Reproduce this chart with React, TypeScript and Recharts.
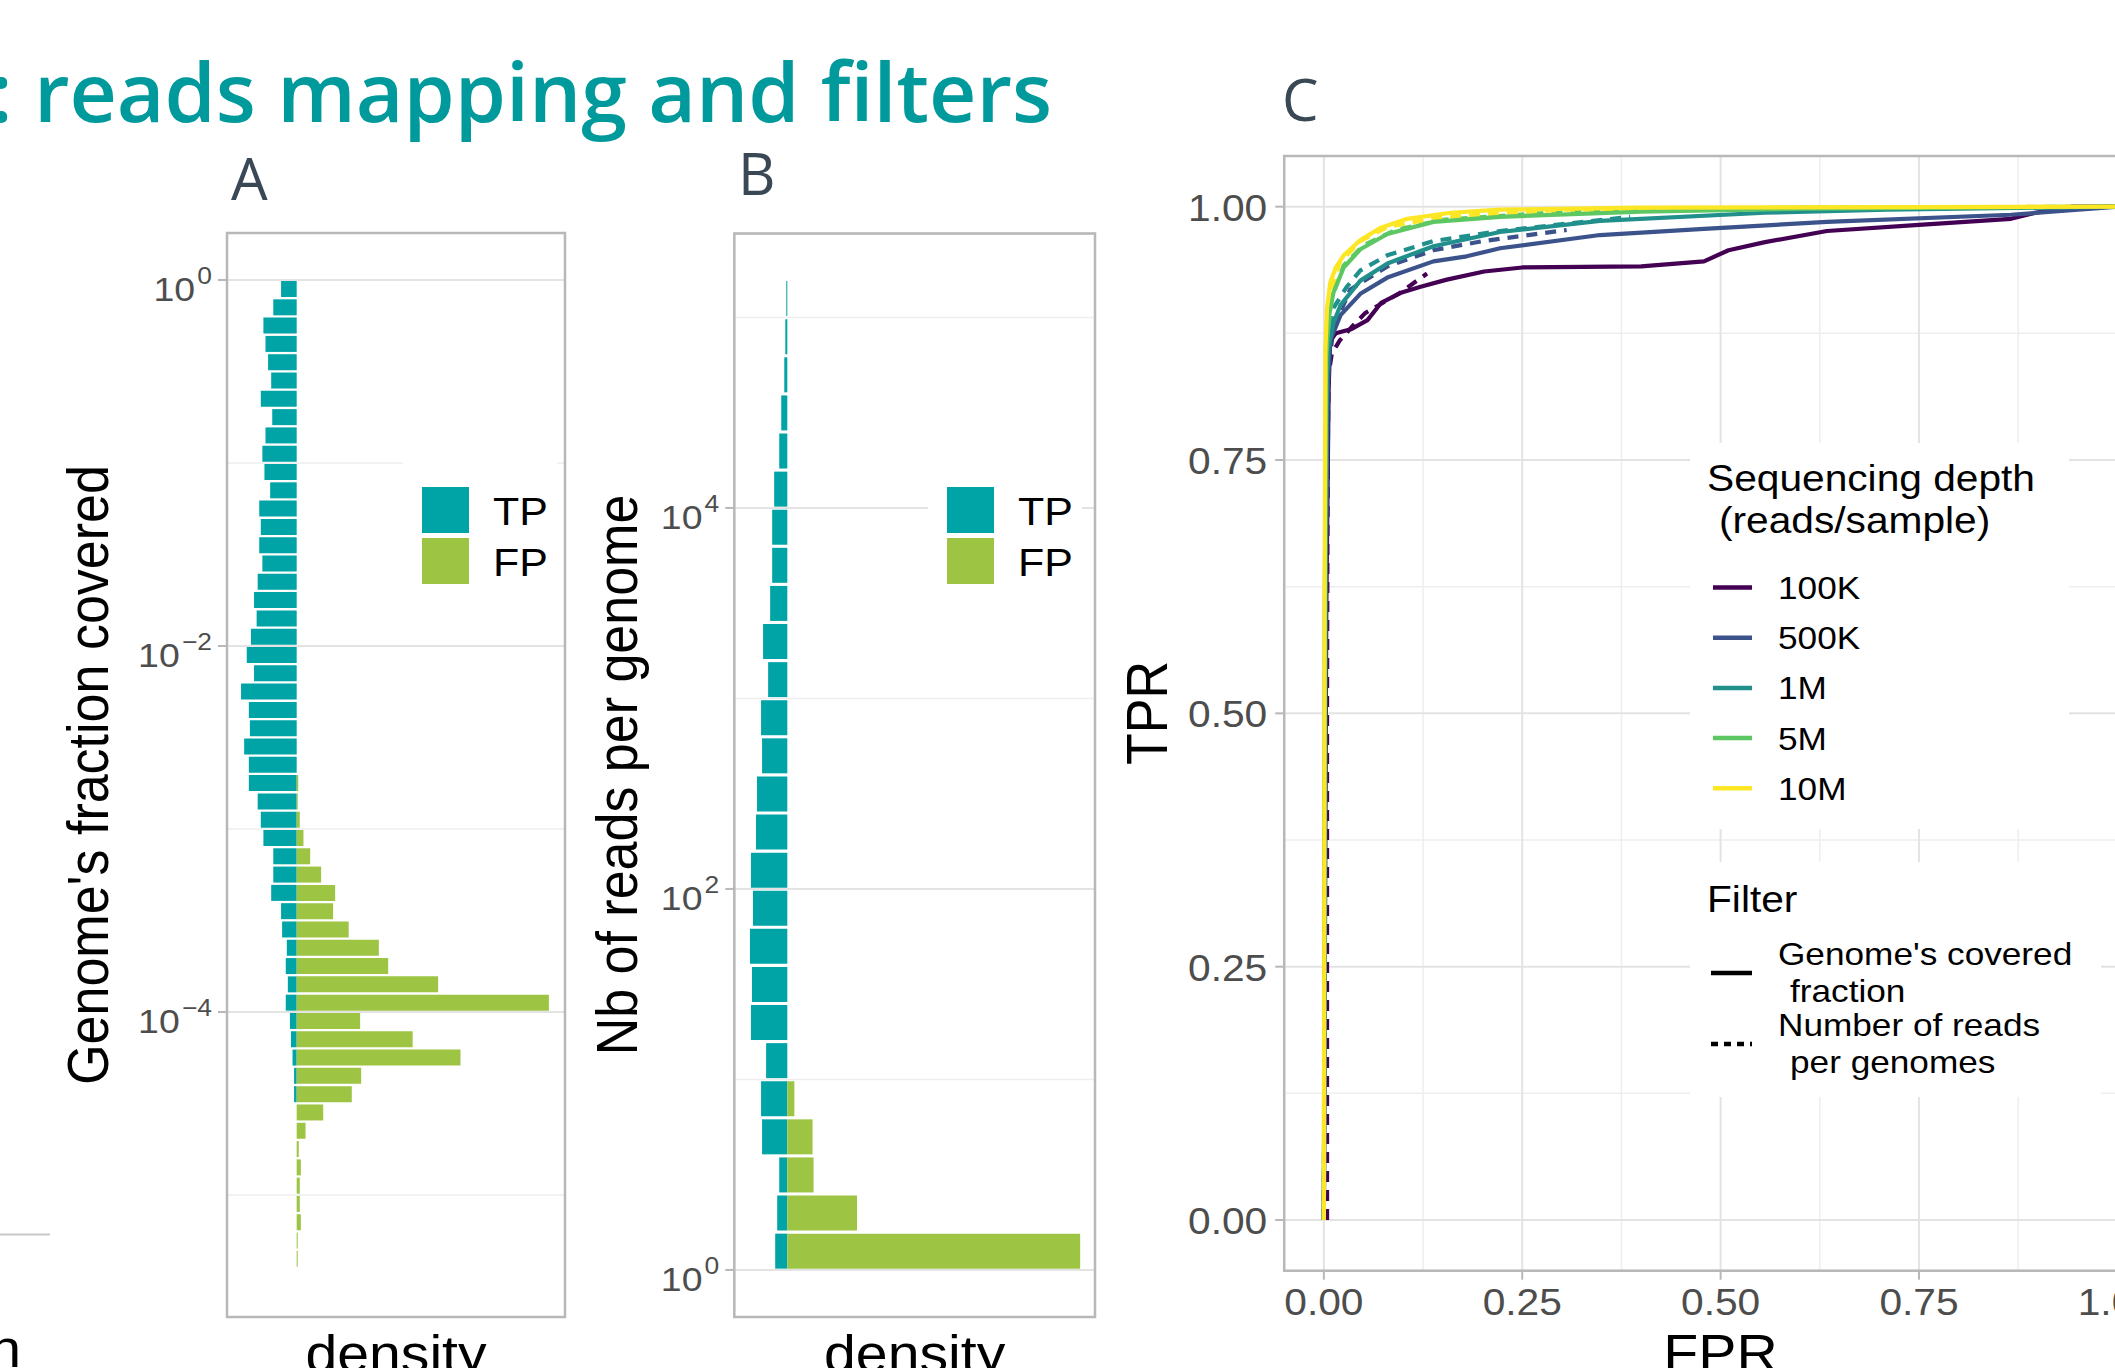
import { BarChart, Bar, LineChart, Line, XAxis, YAxis, CartesianGrid, ReferenceArea, Legend, Label } from 'recharts';

const TP_COLOR = '#00A3A6';
const FP_COLOR = '#9DC443';
const GRID = '#E3E3E3';
const GRID_MINOR = '#EEEEEE';
const BORDER = '#B8B8B8';
const TICK_TEXT = '#4D4D4D';
const SX = 1.1; // the source figure was stretched horizontally

const groupsAB = ['TP', 'FP'];

// A: log10(genome fraction covered), bin centres (0.1 decade)
const binsA = [
  -0.05, -0.15, -0.25, -0.35, -0.45, -0.55, -0.65, -0.75, -0.85, -0.95,
  -1.05, -1.15, -1.25, -1.35, -1.45, -1.55, -1.65, -1.75, -1.85, -1.95,
  -2.05, -2.15, -2.25, -2.35, -2.45, -2.55, -2.65, -2.75, -2.85, -2.95,
  -3.05, -3.15, -3.25, -3.35, -3.45, -3.55, -3.65, -3.75, -3.85, -3.95,
  -4.05, -4.15, -4.25, -4.35, -4.45, -4.55, -4.65, -4.75, -4.85, -4.95,
  -5.05, -5.15, -5.25, -5.35,
];
const tpA = [
  0.30, 0.45, 0.64, 0.60, 0.55, 0.49, 0.69, 0.47, 0.60, 0.66,
  0.62, 0.51, 0.72, 0.69, 0.72, 0.66, 0.75, 0.82, 0.77, 0.88,
  0.96, 0.82, 1.07, 0.92, 0.90, 1.01, 0.92, 0.92, 0.75, 0.69,
  0.64, 0.45, 0.45, 0.49, 0.30, 0.28, 0.19, 0.21, 0.17, 0.21,
  0.13, 0.11, 0.08, 0.05, 0.05, 0, 0, 0, 0, 0,
  0, 0, 0, 0,
];
const fpA = [
  0, 0, 0, 0, 0, 0, 0, 0, 0, 0,
  0, 0, 0, 0, 0, 0, 0, 0, 0, 0,
  0, 0, 0, 0, 0, 0, 0, 0.03, 0.02, 0.06,
  0.13, 0.26, 0.47, 0.74, 0.70, 1.00, 1.58, 1.76, 2.72, 4.85,
  1.22, 2.23, 3.15, 1.24, 1.06, 0.51, 0.17, 0.04, 0.08, 0.06,
  0.06, 0.08, 0.02, 0.02,
];

// B: log10(reads per genome), bin centres (0.2 decade)
const binsB = [
  0.1, 0.3, 0.5, 0.7, 0.9, 1.1, 1.3, 1.5, 1.7, 1.9,
  2.1, 2.3, 2.5, 2.7, 2.9, 3.1, 3.3, 3.5, 3.7, 3.9,
  4.1, 4.3, 4.5, 4.7, 4.9, 5.1,
];
const tpB = [
  0.12, 0.10, 0.08, 0.25, 0.26, 0.21, 0.36, 0.35, 0.37, 0.34,
  0.36, 0.31, 0.30, 0.25, 0.26, 0.19, 0.24, 0.17, 0.15, 0.15,
  0.13, 0.08, 0.06, 0.03, 0.02, 0.01,
];
const fpB = [
  2.90, 0.69, 0.26, 0.25, 0.07, 0, 0, 0, 0, 0,
  0, 0, 0, 0, 0, 0, 0, 0, 0, 0,
  0, 0, 0, 0, 0, 0,
];

// C: ROC curves [FPR, TPR]
const depths = ['100K', '500K', '1M', '5M', '10M'];
const depthColors = ['#440154', '#3B528B', '#21908C', '#5DC863', '#FDE725'];

const cov100K = [[0, 0], [0.003, 0.6], [0.006, 0.82], [0.008, 0.868], [0.015, 0.875], [0.034, 0.879], [0.055, 0.888], [0.072, 0.905], [0.097, 0.915], [0.122, 0.921], [0.155, 0.928], [0.202, 0.936], [0.25, 0.94], [0.4, 0.941], [0.479, 0.946], [0.51, 0.957], [0.556, 0.965], [0.634, 0.976], [0.75, 0.982], [0.866, 0.988], [0.897, 0.994], [0.944, 1], [1, 1]];
const cov500K = [[0, 0], [0.002, 0.6], [0.005, 0.82], [0.008, 0.868], [0.021, 0.893], [0.046, 0.914], [0.08, 0.93], [0.138, 0.946], [0.18, 0.951], [0.222, 0.959], [0.348, 0.972], [0.479, 0.978], [0.634, 0.985], [0.866, 0.992], [1, 1]];
const cov1M = [[0, 0], [0.002, 0.6], [0.004, 0.83], [0.006, 0.862], [0.012, 0.885], [0.021, 0.903], [0.046, 0.927], [0.08, 0.944], [0.138, 0.961], [0.222, 0.975], [0.348, 0.986], [0.556, 0.994], [0.71, 0.997], [1, 1]];
const cov5M = [[0, 0], [0.001, 0.6], [0.003, 0.85], [0.006, 0.89], [0.012, 0.915], [0.025, 0.94], [0.046, 0.958], [0.08, 0.973], [0.138, 0.985], [0.222, 0.99], [0.4, 0.995], [0.6, 0.998], [1, 1]];
const cov10M = [[0, 0], [0.001, 0.6], [0.002, 0.86], [0.004, 0.9], [0.008, 0.925], [0.015, 0.94], [0.025, 0.952], [0.046, 0.967], [0.071, 0.979], [0.105, 0.988], [0.16, 0.994], [0.222, 0.997], [0.4, 0.999], [1, 1]];

const reads100K = [[0.004, 0], [0.004, 0.5], [0.005, 0.83], [0.01, 0.855], [0.02, 0.868], [0.036, 0.882], [0.052, 0.895], [0.096, 0.915], [0.13, 0.934]];
const reads500K = [[0, 0], [0.003, 0.6], [0.006, 0.84], [0.012, 0.88], [0.033, 0.918], [0.08, 0.941], [0.138, 0.957], [0.2, 0.966], [0.306, 0.977]];
const reads1M = [[0, 0], [0.002, 0.6], [0.005, 0.85], [0.012, 0.9], [0.029, 0.921], [0.046, 0.937], [0.08, 0.952], [0.138, 0.966], [0.222, 0.976], [0.386, 0.99]];
const reads5M = [[0, 0], [0.002, 0.6], [0.004, 0.87], [0.01, 0.91], [0.025, 0.942], [0.05, 0.962], [0.09, 0.977], [0.15, 0.987], [0.3, 0.995], [0.6, 0.999], [1, 1]];
const reads10M = [[0, 0], [0.002, 0.6], [0.004, 0.88], [0.008, 0.915], [0.02, 0.945], [0.046, 0.966], [0.08, 0.98], [0.15, 0.99], [0.3, 0.997], [0.6, 0.999], [1, 1]];

const covCurves = [cov100K, cov500K, cov1M, cov5M, cov10M];
const readsCurves = [reads100K, reads500K, reads1M, reads5M, reads10M];
const filterLabels = [["Genome's covered", 'fraction'], ['Number of reads', 'per genomes']];

const rateTicks = [0, 0.25, 0.5, 0.75, 1];
const rateMinor = [0.125, 0.375, 0.625, 0.875];

const dataA = binsA.map((y, i) => ({ y, tp: -tpA[i], fp: fpA[i] }));
const dataB = binsB.map((y, i) => ({ y, tp: -tpB[i], fp: fpB[i] }));
const toPts = (arr: number[][]) => arr.map(([fpr, tpr]) => ({ fpr, tpr }));

function PowTick(props: any) {
  const { x, y, payload } = props;
  const e = payload.value;
  const exp = e < 0 ? `\u2212${-e}` : `${e}`;
  return (
    <text transform={`translate(${x},${y}) scale(${SX},1)`} textAnchor="end" fill={TICK_TEXT} fontSize={34}>
      <tspan dy={21}>10</tspan>
      <tspan dy={-17} dx={2} fontSize={24}>{exp}</tspan>
    </text>
  );
}

function RateTickY(props: any) {
  const { x, y, payload } = props;
  return (
    <text transform={`translate(${x},${y}) scale(${SX},1)`} y={14} textAnchor="end" fill={TICK_TEXT} fontSize={37}>
      {payload.value.toFixed(2)}
    </text>
  );
}

function RateTickX(props: any) {
  const { x, y, payload } = props;
  return (
    <text transform={`translate(${x},${y}) scale(${SX},1)`} y={27} textAnchor="middle" fill={TICK_TEXT} fontSize={37}>
      {payload.value.toFixed(2)}
    </text>
  );
}

function VTitle({ x, y, text }: { x: number; y: number; text: string }) {
  return (
    <text transform={`translate(${x},${y}) scale(${SX},1) rotate(-90)`} textAnchor="middle" fontSize={52} fill="#000">
      {text}
    </text>
  );
}

function HTitle({ x, y, text }: { x: number; y: number; text: string }) {
  return (
    <text transform={`translate(${x},${y}) scale(${SX},1)`} textAnchor="middle" fontSize={52} fill="#000">
      {text}
    </text>
  );
}

function FillLegend() {
  const colors = [TP_COLOR, FP_COLOR];
  return (
    <svg width={154} height={195} style={{ display: 'block' }}>
      <rect width={154} height={195} fill="#fff" />
      {groupsAB.map((g, i) => (
        <g key={g}>
          <rect x={19} y={80 + i * 51} width={47} height={46} fill={colors[i]} />
          <text transform={`translate(90,${118 + i * 51}) scale(${SX},1)`} fontSize={39} fill="#000">{g}</text>
        </g>
      ))}
    </svg>
  );
}

function RocLegend() {
  return (
    <svg width={411} height={654} style={{ display: 'block' }}>
      <rect x={0} y={0} width={379} height={386} fill="#fff" />
      <rect x={0} y={419} width={411} height={235} fill="#fff" />
      <text transform={`translate(17,48) scale(${SX},1)`} fontSize={37}>Sequencing depth</text>
      <text transform={`translate(29,90) scale(${SX},1)`} fontSize={37}>(reads/sample)</text>
      {depths.map((d, i) => (
        <g key={d}>
          <line x1={23} x2={62} y1={144.5 + i * 50.2} y2={144.5 + i * 50.2} stroke={depthColors[i]} strokeWidth={4.5} />
          <text transform={`translate(88,${156 + i * 50.2}) scale(${SX},1)`} fontSize={32}>{d}</text>
        </g>
      ))}
      <text transform={`translate(17,469) scale(${SX},1)`} fontSize={37}>Filter</text>
      {filterLabels.map((lines, i) => (
        <g key={lines[0]}>
          <line x1={21} x2={62} y1={530 + i * 71} y2={530 + i * 71} stroke="#000" strokeWidth={4.5}
            strokeDasharray={i === 1 ? '7 6' : undefined} />
          <text transform={`translate(88,${522 + i * 71}) scale(${SX},1)`} fontSize={32}>{lines[0]}</text>
          <text transform={`translate(100,${559 + i * 71}) scale(${SX},1)`} fontSize={32}>{lines[1]}</text>
        </g>
      ))}
    </svg>
  );
}

function Histogram({ data, xDomain, xTicks, xMinor, yDomain, yTicks, yMinor, yAxisWidth, width, rightMargin, topMargin, gap, title, titleX, legendLeft }: any) {
  const midX = yAxisWidth + (width - rightMargin - yAxisWidth) / 2;
  return (
    <BarChart width={width} height={1368} data={data} layout="vertical" stackOffset="sign" barCategoryGap={gap}
      margin={{ top: topMargin, right: rightMargin, bottom: 11, left: 0 }}>
      <CartesianGrid stroke={GRID_MINOR} strokeWidth={1.5} horizontalValues={yMinor} verticalValues={xMinor} />
      <CartesianGrid stroke={GRID} strokeWidth={2} />
      <XAxis type="number" domain={xDomain} ticks={xTicks} allowDataOverflow tick={false} tickSize={9}
        stroke={BORDER} tickLine={{ stroke: BORDER, strokeWidth: 2 }} axisLine={false} height={40}>
        <Label content={() => <HTitle x={midX} y={1372} text="density" />} />
      </XAxis>
      <YAxis type="number" dataKey="y" domain={yDomain} ticks={yTicks} reversed allowDataOverflow width={yAxisWidth}
        tick={<PowTick />} tickSize={9} tickMargin={6} stroke={BORDER} tickLine={{ stroke: BORDER, strokeWidth: 2 }} axisLine={false}>
        <Label content={() => <VTitle x={titleX} y={775} text={title} />} />
      </YAxis>
      <Bar dataKey="tp" name="TP" stackId="s" fill={TP_COLOR} isAnimationActive={false} />
      <Bar dataKey="fp" name="FP" stackId="s" fill={FP_COLOR} isAnimationActive={false} />
      <ReferenceArea x1={xDomain[0]} x2={xDomain[1]} y1={yDomain[0]} y2={yDomain[1]} fill="none"
        stroke={BORDER} strokeWidth={2.5} ifOverflow="visible" />
      <Legend layout="horizontal" verticalAlign="middle" align="center" content={() => <FillLegend />}
        wrapperStyle={{ left: legendLeft, top: 407, width: 154, height: 195 }} />
    </BarChart>
  );
}

export default function App() {
  return (
    <div style={{ position: 'absolute', left: 0, top: 0, width: 2115, height: 1368, overflow: 'hidden', background: '#fff', fontFamily: "'Liberation Sans', Arial, sans-serif" }}>
      <svg width={2115} height={1368} style={{ position: 'absolute', left: 0, top: 0 }}>
        <text x={-10} y={122} fontFamily="'Open Sans', sans-serif" fontWeight={600} fontSize={82} fill="#00999C"
          textLength={1062} lengthAdjust="spacingAndGlyphs">: reads mapping and filters</text>
        <g fontFamily="'Open Sans', sans-serif" fontSize={58} fill="#3A4856">
          <text x={231} y={200}>A</text>
          <text x={738} y={195}>B</text>
          <text x={1282} y={121}>C</text>
        </g>
        <line x1={0} x2={50} y1={1234.5} y2={1234.5} stroke="#C8C8C8" strokeWidth={2} />
        <text transform={`translate(21,1367) scale(${SX},1)`} textAnchor="end" fontSize={52}>depth</text>
      </svg>

      <div style={{ position: 'absolute', left: 0, top: 0 }}>
        <Histogram data={dataA} xDomain={[-1.34, 5.16]} xTicks={[-1, 0, 1, 2, 3, 4, 5]}
          xMinor={[-0.5, 0.5, 1.5, 2.5, 3.5, 4.5]} yDomain={[-5.667, 0.257]} yTicks={[0, -2, -4]}
          yMinor={[-1, -3, -5]} yAxisWidth={227} width={600} rightMargin={35} topMargin={233} gap={1}
          title="Genome's fraction covered" titleX={108} legendLeft={403} />
      </div>

      <div style={{ position: 'absolute', left: 560, top: 0 }}>
        <Histogram data={dataB} xDomain={[-0.525, 3.047]} xTicks={[0, 1, 2, 3]}
          xMinor={[-0.5, 0.5, 1.5, 2.5]} yDomain={[-0.247, 5.441]} yTicks={[0, 2, 4]}
          yMinor={[1, 3, 5]} yAxisWidth={174.3} width={565} rightMargin={30} topMargin={233.4} gap={1.8}
          title="Nb of reads per genome" titleX={77} legendLeft={368} />
      </div>

      <div style={{ position: 'absolute', left: 1000, top: 0 }}>
        <LineChart width={1177} height={1368} margin={{ top: 156, right: 20, bottom: 37.3, left: 0 }}>
          <CartesianGrid stroke={GRID_MINOR} strokeWidth={1.5} horizontalValues={rateMinor} verticalValues={rateMinor} />
          <CartesianGrid stroke={GRID} strokeWidth={2} />
          <XAxis type="number" dataKey="fpr" domain={[-0.05, 1.05]} ticks={rateTicks} allowDataOverflow height={60}
            tick={<RateTickX />} tickSize={9} tickMargin={8} stroke={BORDER} tickLine={{ stroke: BORDER, strokeWidth: 2 }} axisLine={false}>
            <Label content={() => <HTitle x={720.5} y={1371} text="FPR" />} />
          </XAxis>
          <YAxis type="number" dataKey="tpr" domain={[-0.05, 1.05]} ticks={rateTicks} allowDataOverflow width={284.2}
            tick={<RateTickY />} tickSize={9} tickMargin={8} stroke={BORDER} tickLine={{ stroke: BORDER, strokeWidth: 2 }} axisLine={false}>
            <Label content={() => <VTitle x={167} y={713} text="TPR" />} />
          </YAxis>
          {readsCurves.map((c, i) => (
            <Line key={`r${i}`} data={toPts(c)} dataKey="tpr" name={`${depths[i]} reads`} type="linear"
              stroke={depthColors[i]} strokeWidth={4.2} strokeDasharray="11 8" dot={false} isAnimationActive={false} />
          ))}
          {covCurves.map((c, i) => (
            <Line key={`c${i}`} data={toPts(c)} dataKey="tpr" name={`${depths[i]} coverage`} type="linear"
              stroke={depthColors[i]} strokeWidth={4.2} strokeLinejoin="round" dot={false} isAnimationActive={false} />
          ))}
          <ReferenceArea x1={-0.05} x2={1.05} y1={-0.05} y2={1.05} fill="none" stroke={BORDER} strokeWidth={2.5} ifOverflow="visible" />
          <Legend layout="horizontal" verticalAlign="middle" align="center" content={() => <RocLegend />}
            wrapperStyle={{ left: 690, top: 443, width: 411, height: 654 }} />
        </LineChart>
      </div>
    </div>
  );
}
